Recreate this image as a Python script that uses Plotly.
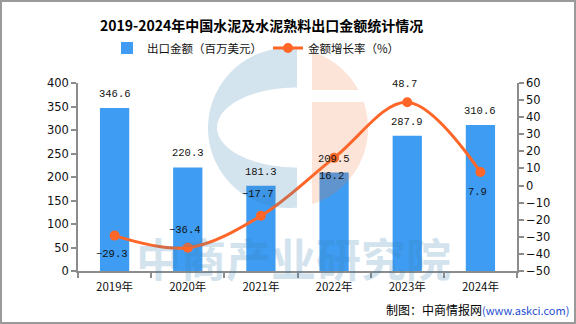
import numpy as np
import plotly.graph_objects as go

years = ["2019年", "2020年", "2021年", "2022年", "2023年", "2024年"]
export_value = [346.6, 220.3, 181.3, 209.5, 287.9, 310.6]
growth_rate = [-29.3, -36.4, -17.7, 16.2, 48.7, 7.9]
bar_labels = ["346.6", "220.3", "181.3", "209.5", "287.9", "310.6"]
line_labels = ["-29.3", "-36.4", "-17.7", "16.2", "48.7", "7.9"]
line_label_shift = [-18, 18, 22, -18, 18, -20]

W, H = 576, 324
L, R, T, B = 78, 59, 83, 53
PW, PH = W - L - R, H - T - B

def px(x):
    return (x - L) / PW

def py(y):
    return (H - B - y) / PH

BAR = "#3E9CF2"
LINE = "#FF6628"
CJK = "Noto Sans CJK SC"

fig = go.Figure()
fig.add_trace(go.Bar(
    x=years, y=export_value, name="出口金额（百万美元）",
    marker=dict(color=BAR, line=dict(width=0)), width=0.4,
    hoverinfo="skip",
))
fig.add_trace(go.Scatter(
    x=years, y=growth_rate, name="金额增长率（%）", yaxis="y2",
    mode="lines+markers",
    line=dict(color=LINE, width=3, shape="spline", smoothing=1.0),
    marker=dict(color=LINE, size=10),
    hoverinfo="skip",
))

annotations = []
for x, v, t in zip(years, export_value, bar_labels):
    annotations.append(dict(x=x, y=v, xref="x", yref="y", text=t, showarrow=False,
                            yshift=14, xanchor="center", yanchor="middle",
                            font=dict(family="Liberation Mono", size=10.5, color="#111")))
for x, v, t, s in zip(years, growth_rate, line_labels, line_label_shift):
    annotations.append(dict(x=x, y=v, xref="x", yref="y2", text=t.replace("-", "−"), showarrow=False,
                            yshift=s, xshift=-3, xanchor="center", yanchor="middle",
                            font=dict(family="Liberation Mono", size=10.5, color="#111")))

# watermark text
annotations.append(dict(x=px(293), y=py(257), xref="paper", yref="paper", text="<b>中商产业研究院</b>",
                        showarrow=False, opacity=0.22, xanchor="center", yanchor="middle",
                        font=dict(family=CJK, size=45, color="rgb(60,130,180)")))
# title
annotations.append(dict(x=px(261), y=py(25), xref="paper", yref="paper",
                        text="<b>2019-2024年中国水泥及水泥熟料出口金额统计情况</b>",
                        xanchor="center", yanchor="middle",
                        showarrow=False, font=dict(family=CJK, size=14, color="#000")))
# footer
annotations.append(dict(x=px(571), y=py(309), xref="paper", yref="paper", xanchor="right", yanchor="middle",
                        text="制图：中商情报网<span style='color:#1F4FD0;font-size:11px'>(www.askci.com)</span>",
                        showarrow=False, font=dict(family=CJK, size=12, color="#000")))

# logo watermark geometry (pixels)
cx, cy, r = 288, 128, 80

def path_from(points):
    return "M " + " L ".join(f"{px(a):.5f},{py(b):.5f}" for a, b in points) + " Z"

# blue C
xb = 297
a_top = np.arctan2(-np.sqrt(r**2 - (xb - cx)**2), xb - cx)
a_bot = np.arctan2(np.sqrt(r**2 - (xb - cx)**2), xb - cx)
angs = np.linspace(a_top, -np.pi, 60).tolist() + np.linspace(np.pi, a_bot, 60).tolist()
outer = [(cx + r * np.cos(a), cy + r * np.sin(a)) for a in angs]
ecx, ecy, erx, ery = 297, 127.5, 80, 40
e_angs = np.linspace(np.pi / 2, 3 * np.pi / 2, 80)
inner = [(ecx + erx * np.cos(a), ecy + ery * np.sin(a)) for a in e_angs]
blue_pts = outer + [(xb, ecy + ery)] + inner + [(xb, ecy - ery)]

# orange pieces
xo = 312
def orange_piece(y0, y1):
    pts = []
    ys = np.linspace(y0, y1, 60)
    for yy in ys:
        dx = np.sqrt(max(r**2 - (yy - cy)**2, 0))
        pts.append((max(cx + dx, xo), yy))
    pts += [(xo, y1), (xo, y0)]
    return pts
top_y = cy - np.sqrt(r**2 - (xo - cx)**2)
bot_y = cy + np.sqrt(r**2 - (xo - cx)**2)
orange_top = orange_piece(top_y, 90)
orange_bot = orange_piece(102, bot_y)

shapes = [
    dict(type="path", xref="paper", yref="paper", path=path_from(blue_pts),
         fillcolor="rgb(60,130,180)", opacity=0.22, line=dict(width=0), layer="above"),
    dict(type="path", xref="paper", yref="paper", path=path_from(orange_top),
         fillcolor="rgb(240,120,60)", opacity=0.2, line=dict(width=0), layer="above"),
    dict(type="path", xref="paper", yref="paper", path=path_from(orange_bot),
         fillcolor="rgb(240,120,60)", opacity=0.2, line=dict(width=0), layer="above"),
    dict(type="rect", xref="paper", yref="paper", x0=px(1), x1=px(575), y0=py(323), y1=py(1),
         line=dict(color="#9A9A9A", width=2), fillcolor="rgba(0,0,0,0)"),
]

axis_common = dict(showgrid=False, zeroline=False, showline=True, linecolor="#8C8C8C", linewidth=1.5,
                   ticks="outside", ticklen=5, tickcolor="#8C8C8C", tickwidth=1.5,
                   tickfont=dict(family="DejaVu Sans", size=11.5, color="#111"))

fig.update_layout(
    width=W, height=H, margin=dict(l=L, r=R, t=T, b=B),
    paper_bgcolor="white", plot_bgcolor="white",
    showlegend=True,
    legend=dict(orientation="h", x=px(268), xanchor="center", y=py(48), yanchor="middle",
                font=dict(family=CJK, size=11.5, color="#111"), bgcolor="rgba(0,0,0,0)",
                entrywidth=116, entrywidthmode="pixels", itemwidth=30, tracegroupgap=0),
    xaxis=dict(**{**axis_common, "tickfont": dict(family=CJK, size=11.5, color="#111")},
               tickson="boundaries", type="category", ticklabelstandoff=4),
    yaxis=dict(**axis_common, range=[0, 400], dtick=50, tick0=0),
    yaxis2=dict(**axis_common, range=[-50, 60], dtick=10, tick0=-50, overlaying="y", side="right"),
    annotations=annotations,
    shapes=shapes,
    bargap=0.6,
)

fig.write_html("out.html")
